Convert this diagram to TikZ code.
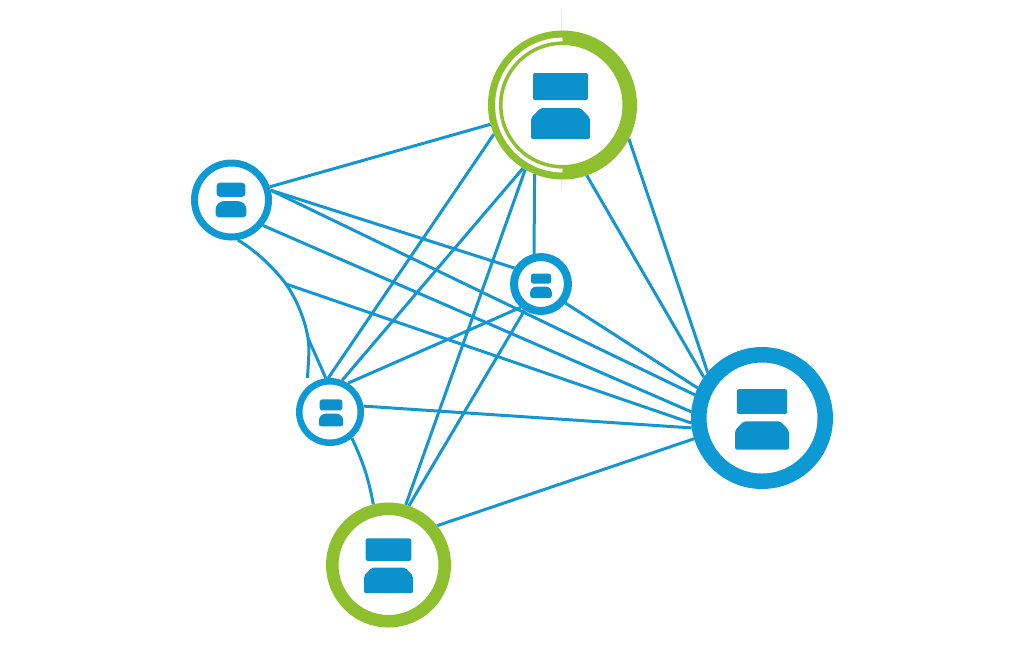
\documentclass[tikz,border=0pt]{standalone}
\usepackage{tikz}
\usetikzlibrary{backgrounds}
\definecolor{linkblue}{HTML}{1496D2}
\definecolor{ringblue}{HTML}{0D9AD4}
\definecolor{iconblue}{HTML}{0B92CC}
\definecolor{ringgreen}{HTML}{8DBF2E}
\definecolor{hairgray}{HTML}{E9E9E9}

\tikzset{
  servericon/.pic={
    \fill[iconblue] (-27.5,-32) rectangle (27.5,-5);
    \fill[iconblue] (-20,3) -- (20,3) -- (29.5,13) -- (29.5,34) -- (-29.5,34) -- (-29.5,13) -- cycle;
  }
}

\begin{document}
\begin{tikzpicture}[
  x=1pt, y=-1pt,
  hubnode/.style 2 args={draw=#1,circle,fill=white,inner sep=0pt,line width=#2},
  link/.style={linkblue,line width=3pt},
  iconshape/.style={rounded corners=2pt}
]
\useasboundingbox (0,0) rectangle (1024,665);

\node[hubnode={ringgreen}{14.5pt}, minimum size=134.5pt] (hubT) at (562.5,105) {};
\node[hubnode={ringblue}{7pt}, minimum size=74pt] (hubL) at (231.5,200) {};
\node[hubnode={ringblue}{8pt}, minimum size=54pt] (hubM) at (541,284) {};
\node[hubnode={ringblue}{6.5pt}, minimum size=61.5pt] (hubS) at (330,412) {};
\node[hubnode={ringblue}{15.5pt}, minimum size=126.5pt] (hubR) at (762,418) {};
\node[hubnode={ringgreen}{12.5pt}, minimum size=112.5pt] (hubB) at (388.5,565) {};

\pic[iconshape] at (560.5,105) {servericon};
\pic[scale=.525, rounded corners=3.5pt] at (231,199.5) {servericon};
\pic[scale=.37, rounded corners=2.5pt] at (541,285.5) {servericon};
\pic[scale=.41, rounded corners=2.5pt] at (331,412.5) {servericon};
\pic[scale=.915, iconshape] at (762,418.5) {servericon};
\pic[scale=.83, iconshape] at (388.5,565) {servericon};

% gap in the top ring
\draw[white,line width=3.8pt] (hubT.center) ++(0,-65.5) arc[start angle=90,delta angle=180,x radius=65.5pt,y radius=65.5pt];

\coordinate (knee) at (286,284);
\coordinate (fork) at (308,338);
\coordinate (tail) at (307.5,378);
\coordinate (hairtop) at (561.5,8);
\coordinate (hairbot) at (561.5,190);

\begin{scope}[on background layer]
\draw[hairgray,line width=1pt] (hairtop) -- (hairbot);

\path (hubL.19.5) edge[link] (hubT.195)
(hubL.14.5) edge[link] (hubM.149)
(hubL.14.5) edge[link] (hubR.161)
(hubL.-39.5) edge[link] (hubR.175)
(hubT.203) edge[link] (hubS.93)
(hubT.238) edge[link] (hubS.69)
(hubT.240) edge[link] (hubB.74)
(hubT.248) edge[link] (hubM.103)
(hubT.289.4) edge[link] (hubR.145.6)
(hubT.333) edge[link] (hubR.140.6)
(hubM.229) edge[link] (hubS.58)
(hubM.238) edge[link] (hubB.71)
(hubM.-38) edge[link] (hubR.155.6)
(hubS.10) edge[link] (hubR.188)
(hubB.39.5) edge[link] (hubR.197)
(knee) edge[link] (hubR.184)
(fork) edge[link] (hubS.97)
;
\path [bend left=7] (hubS.-50) edge[link] (hubB.104);

% curved lead out of the left hub
\draw[link] (hubL.-81) .. controls (255,250) and (274,268) .. (knee)
  .. controls (297,300) and (305,320) .. (fork)
  .. controls (310,350) and (308,365) .. (tail);
\end{scope}

\end{tikzpicture}
\end{document}
